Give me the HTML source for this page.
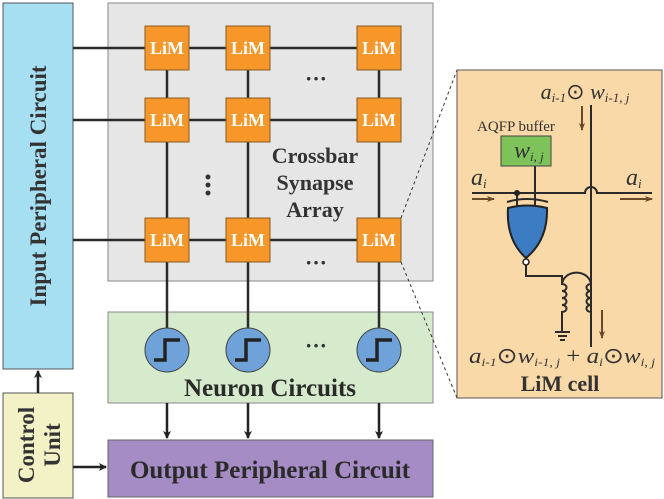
<!DOCTYPE html>
<html><head><style>body{margin:0;background:#fff}svg{display:block}</style></head><body>
<svg width="664" height="499" viewBox="0 0 664 499" xmlns="http://www.w3.org/2000/svg" font-family="Liberation Serif, serif">
<defs>
<marker id="ar" markerWidth="8" markerHeight="8" refX="7" refY="4" orient="auto" markerUnits="userSpaceOnUse"><path d="M0,0 L8,4 L0,8 L2,4z" fill="#222"/></marker>
<marker id="br" markerWidth="8" markerHeight="6" refX="7" refY="3" orient="auto" markerUnits="userSpaceOnUse"><path d="M0,0 L8,3 L0,6 L2,3z" fill="#6b4a2a"/></marker>
</defs>
<rect x="3" y="3" width="70" height="366" fill="#a6dff2" stroke="#555"/>
<text transform="translate(46,186) rotate(-90)" text-anchor="middle" font-size="23" font-weight="bold" fill="#333">Input Peripheral Circuit</text>
<rect x="3" y="393" width="70" height="105" fill="#f2f2c6" stroke="#555"/>
<text transform="translate(34,445) rotate(-90)" text-anchor="middle" font-size="23" font-weight="bold" fill="#333">Control</text>
<text transform="translate(60,445) rotate(-90)" text-anchor="middle" font-size="23" font-weight="bold" fill="#333">Unit</text>
<line x1="38" y1="393" x2="38" y2="371" stroke="#222" stroke-width="2.5" marker-end="url(#ar)"/>
<line x1="73" y1="467" x2="106" y2="467" stroke="#222" stroke-width="2.5" marker-end="url(#ar)"/>
<rect x="108" y="3" width="325" height="278" fill="#e6e6e6" stroke="#888"/>
<rect x="108" y="312" width="325" height="91" fill="#d6ebcc" stroke="#888"/>
<rect x="108" y="440" width="325" height="57" fill="#a58cc4" stroke="#666"/>
<text x="270" y="478" text-anchor="middle" font-size="25" font-weight="bold" fill="#2a2a2a">Output Peripheral Circuit</text>
<g stroke="#2a2a2a" stroke-width="2.5">
<line x1="73" y1="48" x2="379" y2="48"/><line x1="73" y1="120" x2="379" y2="120"/><line x1="73" y1="240" x2="379" y2="240"/>
<line x1="167" y1="48" x2="167" y2="330"/><line x1="248" y1="48" x2="248" y2="330"/><line x1="379" y1="48" x2="379" y2="330"/>
</g>
<g stroke="#222" stroke-width="2.5">
<line x1="167" y1="403" x2="167" y2="438" marker-end="url(#ar)"/>
<line x1="248" y1="403" x2="248" y2="438" marker-end="url(#ar)"/>
<line x1="379" y1="403" x2="379" y2="438" marker-end="url(#ar)"/>
</g>
<g fill="#f7972a" stroke="#8a5a20" stroke-width="1">
<rect x="145" y="26" width="44" height="44"/><rect x="226" y="26" width="44" height="44"/><rect x="357" y="26" width="44" height="44"/>
<rect x="145" y="98" width="44" height="44"/><rect x="226" y="98" width="44" height="44"/><rect x="357" y="98" width="44" height="44"/>
<rect x="145" y="218" width="44" height="44"/><rect x="226" y="218" width="44" height="44"/><rect x="357" y="218" width="44" height="44"/>
</g>
<g fill="#fff" font-size="18" font-weight="bold" text-anchor="middle">
<text x="167" y="54">LiM</text><text x="248" y="54">LiM</text><text x="379" y="54">LiM</text>
<text x="167" y="126">LiM</text><text x="248" y="126">LiM</text><text x="379" y="126">LiM</text>
<text x="167" y="246">LiM</text><text x="248" y="246">LiM</text><text x="379" y="246">LiM</text>
</g>
<g fill="#333" font-size="22" font-weight="bold" text-anchor="middle">
<text x="316" y="86">···</text><text x="316" y="270">···</text><text x="316" y="353">···</text>
<text x="315" y="163">Crossbar</text><text x="315" y="190">Synapse</text><text x="315" y="217">Array</text>
</g>
<g fill="#333"><circle cx="208" cy="177" r="2.5"/><circle cx="208" cy="185" r="2.5"/><circle cx="208" cy="193" r="2.5"/></g>
<g fill="#6fa2d8" stroke="#444" stroke-width="1">
<circle cx="167" cy="350" r="22"/><circle cx="248" cy="350" r="22"/><circle cx="379" cy="350" r="22"/>
</g>
<g fill="none" stroke="#222" stroke-width="3.5">
<path d="M154,360 H165 V340 H180"/><path d="M235,360 H246 V340 H261"/><path d="M366,360 H377 V340 H392"/>
</g>
<text x="270" y="396" text-anchor="middle" font-size="25" font-weight="bold" fill="#2a2a2a">Neuron Circuits</text>
<g stroke="#333" stroke-dasharray="3,3" stroke-width="1"><line x1="401" y1="218" x2="457" y2="70"/><line x1="401" y1="262" x2="457" y2="398"/></g>
<rect x="457" y="70" width="205" height="328" fill="#f9d9a8" stroke="#555"/>
<text x="585" y="99" text-anchor="middle" font-size="22" font-style="italic" fill="#333">a<tspan font-size="13" dy="3">i-1</tspan><tspan dy="-3" font-style="normal">⊙ </tspan>w<tspan font-size="13" dy="3">i-1, j</tspan></text>
<line x1="582" y1="106" x2="582" y2="130" stroke="#6b4a2a" stroke-width="2" marker-end="url(#br)"/>
<text x="477" y="131" font-size="15" fill="#333">AQFP buffer</text>
<rect x="501" y="136" width="50" height="30" fill="#7dc35a" stroke="#444"/>
<text x="514" y="158" font-size="24" font-style="italic" fill="#333">w<tspan font-size="13" dy="3">i, j</tspan></text>
<g stroke="#2a2a2a" stroke-width="2" fill="none">
<path d="M591,105 V347"/>
<path d="M472,193 H585 A6,6 0 0 1 597,193 H652"/>
<line x1="535" y1="166" x2="535" y2="210"/>
<line x1="517" y1="193" x2="517" y2="208"/>
<path d="M526,263 V276 H562 V284"/>
<path d="M562,284 c6,0 6,7 0,7 c6,0 6,7 0,7 c6,0 6,7 0,7 c6,0 6,7 0,7 V332"/>
<path d="M591,284 c-6,0 -6,7 0,7 c-6,0 -6,7 0,7 c-6,0 -6,7 0,7 c-6,0 -6,7 0,7"/>
<path d="M562,285 A14,12 0 0 1 591,285"/>
<path d="M555,332 H570 M558,336 H567 M560,340 H565"/>
<path d="M507,202 Q527,196 548,202"/>
</g>
<circle cx="517" cy="193" r="3" fill="#222"/>
<path d="M508,208 Q527,203 547,208 Q548,240 526,258 Q506,240 508,208z" fill="#3c7cc2" stroke="#222" stroke-width="2"/>
<circle cx="526" cy="262" r="3" fill="#fff" stroke="#222" stroke-width="1.5"/>
<text x="471" y="185" font-size="24" font-style="italic" fill="#333">a<tspan font-size="13" dy="3">i</tspan></text>
<text x="626" y="185" font-size="24" font-style="italic" fill="#333">a<tspan font-size="13" dy="3">i</tspan></text>
<line x1="472" y1="199" x2="494" y2="199" stroke="#6b4a2a" stroke-width="2" marker-end="url(#br)"/>
<line x1="620" y1="199" x2="652" y2="199" stroke="#6b4a2a" stroke-width="2" marker-end="url(#br)"/>
<line x1="602" y1="310" x2="602" y2="338" stroke="#6b4a2a" stroke-width="2" marker-end="url(#br)"/>
<text x="562" y="363" text-anchor="middle" font-size="22" font-style="italic" fill="#333" textLength="186" lengthAdjust="spacingAndGlyphs">a<tspan font-size="12" dy="3">i-1</tspan><tspan dy="-3" font-style="normal">⊙</tspan>w<tspan font-size="12" dy="3">i-1, j</tspan><tspan dy="-3" font-style="normal"> + </tspan>a<tspan font-size="12" dy="3">i</tspan><tspan dy="-3" font-style="normal">⊙</tspan>w<tspan font-size="12" dy="3">i, j</tspan></text>
<text x="560" y="391" text-anchor="middle" font-size="22" font-weight="bold" fill="#333">LiM cell</text>
</svg>
</body></html>
